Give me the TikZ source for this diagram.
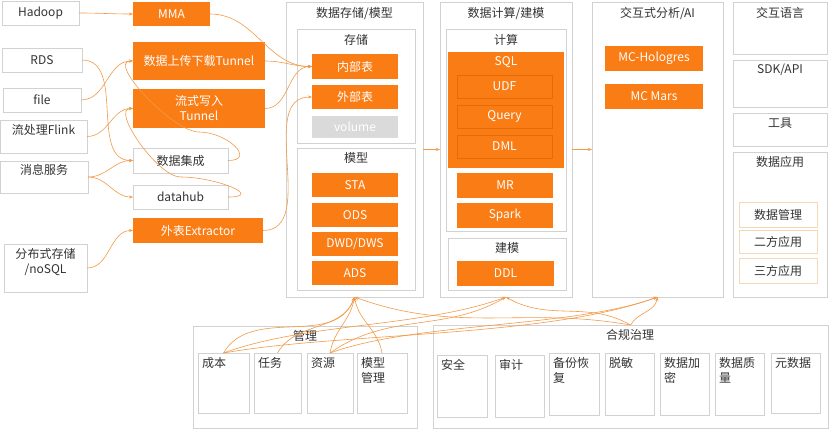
\documentclass[tikz,border=0pt]{standalone}
\usepackage{fontspec}
\setmainfont{Noto Sans CJK SC}
\usetikzlibrary{arrows.meta}

\definecolor{mcorange}{HTML}{FA7C14}
\definecolor{mcline}{HTML}{F29A48}
\definecolor{mcgray}{HTML}{D2D2D2}
\definecolor{mctext}{HTML}{333333}
\definecolor{mcvol}{HTML}{DADADA}
\definecolor{mcpeach}{HTML}{F5D8B8}
\definecolor{mcdeep}{HTML}{E56B05}

\begin{document}
\begin{tikzpicture}[x=1pt,y=-1pt,
  font=\fontsize{12}{15}\selectfont, text=mctext,
  boxsize/.style 2 args={minimum width=#1pt,minimum height=#2pt},
  plain/.style={draw=mcgray,fill=white,inner sep=1pt,outer sep=0pt,align=center},
  hot/.style={fill=mcorange,text=white,inner sep=1pt,outer sep=0pt,align=center},
  ttl/.style={inner sep=0pt,align=center},
  corner/.style={anchor=north west,inner sep=0pt,align=left},
  flow/.style={draw=mcline,line width=0.6pt,-{Stealth[length=4pt,width=3pt]}}]
\useasboundingbox (0,0) rectangle (829,429);

% sources
\node[plain,boxsize={77}{24}] (hadoop) at (40.5,13) {Hadoop};
\node[plain,boxsize={80}{24}] (rds) at (42,60) {RDS};
\node[plain,boxsize={78}{24}] (file) at (42,100) {file};
\node[plain,boxsize={87}{33}] (flink) at (43.5,136.5) {};
\node[ttl] (flinkt) at (43.5,130) {流处理Flink};
\node[plain,boxsize={88}{32}] (msg) at (44,177) {};
\node[ttl] (msgt) at (44,170) {消息服务};
\node[plain,boxsize={83}{48}] (nosql) at (45.5,268) {};
\node[ttl] (nosqlt) at (45.5,262) {分布式存储\\/noSQL};

% ingestion
\node[hot,boxsize={77}{24}] (mma) at (171.5,14) {MMA};
\node[hot,boxsize={132}{38}] (tunnel) at (199,61) {数据上传下载Tunnel};
\node[hot,boxsize={132}{39}] (stream) at (199,108.5) {流式写入\\Tunnel};
\node[plain,boxsize={95}{25}] (jicheng) at (180.5,160.5) {数据集成};
\node[plain,boxsize={95}{24}] (datahub) at (180.5,197) {datahub};
\node[hot,boxsize={130}{25}] (extractor) at (198,230.5) {外表Extractor};

% storage / model
\node[plain,boxsize={137}{295}] (store) at (354.5,149.5) {};
\node[ttl] (storet) at (354.5,14) {数据存储/模型};
\node[plain,boxsize={118}{114}] (storage) at (356,86) {};
\node[ttl] (storaget) at (356,40) {存储};
\node[hot,boxsize={86}{25}] (inner) at (355,66.5) {内部表};
\node[hot,boxsize={86}{24}] (outer) at (355,97) {外部表};
\node[hot,fill=mcvol,boxsize={86}{22}] (volume) at (355,127) {volume};
\node[plain,boxsize={118}{142}] (model) at (356,219) {};
\node[ttl] (modelt) at (356,158) {模型};
\node[hot,boxsize={86}{24}] (sta) at (355,185) {STA};
\node[hot,boxsize={86}{24}] (ods) at (355,215) {ODS};
\node[hot,boxsize={86}{24}] (dwd) at (355,244) {DWD/DWS};
\node[hot,boxsize={86}{24}] (ads) at (355,273) {ADS};

% compute / build
\node[plain,boxsize={132}{295}] (calc) at (506,149.5) {};
\node[ttl] (calct) at (506,14) {数据计算/建模};
\node[plain,boxsize={120}{202}] (compute) at (506,130) {};
\node[ttl] (computet) at (506,40) {计算};
\node[hot,boxsize={116}{116}] (sql) at (506,110) {};
\node[ttl,text=white] (sqlt) at (506,62) {SQL};
\node[hot,draw=mcdeep,boxsize={95}{23}] (udf) at (504.5,86.5) {UDF};
\node[hot,draw=mcdeep,boxsize={95}{23}] (query) at (504.5,116.5) {Query};
\node[hot,draw=mcdeep,boxsize={95}{23}] (dml) at (504.5,146.5) {DML};
\node[hot,boxsize={96}{25}] (mr) at (505,185.5) {MR};
\node[hot,boxsize={96}{25}] (spark) at (505,215.5) {Spark};
\node[plain,boxsize={118}{52}] (build) at (507,264) {};
\node[ttl] (buildt) at (507,248) {建模};
\node[hot,boxsize={97}{25}] (ddl) at (505.5,273.5) {DDL};

% interactive / AI
\node[plain,boxsize={131}{295}] (ai) at (657.5,149.5) {};
\node[ttl] (ait) at (657.5,13) {交互式分析/AI};
\node[hot,boxsize={98}{25}] (holo) at (654,58.5) {MC-Hologres};
\node[hot,boxsize={98}{25}] (mars) at (654,96.5) {MC Mars};

% access
\node[plain,boxsize={94}{52}] (lang) at (780,28) {};
\node[ttl] (langt) at (780,13) {交互语言};
\node[plain,boxsize={94}{47}] (sdk) at (780,83.5) {};
\node[ttl] (sdkt) at (780,70) {SDK/API};
\node[plain,boxsize={94}{33}] (tool) at (780,129.5) {};
\node[ttl] (toolt) at (780,123) {工具};
\node[plain,boxsize={94}{145}] (app) at (780,224.5) {};
\node[ttl] (appt) at (780,162) {数据应用};
\node[plain,draw=mcpeach,boxsize={78}{25}] (dm) at (778,214.5) {数据管理};
\node[plain,draw=mcpeach,boxsize={78}{23}] (second) at (778,241.5) {二方应用};
\node[plain,draw=mcpeach,boxsize={78}{25}] (third) at (778,270.5) {三方应用};

% management
\node[plain,boxsize={224}{102}] (mgmt) at (305,377) {};
\node[ttl] (mgmtt) at (305,336) {管理};
\node[plain,boxsize={51}{60}] (cost) at (223.5,383) {};
\node[corner] (costt) at (202,357) {成本};
\node[plain,boxsize={47}{60}] (task) at (277.5,383) {};
\node[corner] (taskt) at (258,357) {任务};
\node[plain,boxsize={46}{60}] (res) at (330,383) {};
\node[corner] (rest) at (311,357) {资源};
\node[plain,boxsize={50}{60}] (mmgmt) at (382,383) {};
\node[corner] (mmgmtt) at (361,357) {模型\\管理};

% governance
\node[plain,boxsize={395}{103}] (gov) at (630.5,376.5) {};
\node[ttl] (govt) at (630,335) {合规治理};
\node[plain,boxsize={50}{62}] (safe) at (462,386) {};
\node[corner] (safet) at (441,359) {安全};
\node[plain,boxsize={49}{62}] (audit) at (519.5,386) {};
\node[corner] (auditt) at (499,359) {审计};
\node[plain,boxsize={50}{62}] (backup) at (574,384) {};
\node[corner] (backupt) at (553,357) {备份恢\\复};
\node[plain,boxsize={49}{62}] (desens) at (629.5,384) {};
\node[corner] (desenst) at (609,357) {脱敏};
\node[plain,boxsize={49}{62}] (encrypt) at (684.5,384) {};
\node[corner] (encryptt) at (664,357) {数据加\\密};
\node[plain,boxsize={49}{62}] (quality) at (739.5,384) {};
\node[corner] (qualityt) at (719,357) {数据质\\量};
\node[plain,boxsize={49}{60}] (meta) at (795.5,383) {};
\node[corner] (metat) at (775,357) {元数据};

% sources into channels
\draw[flow] (hadoop.east) to[out=0,in=180] (mma.west);
\draw[flow] (rds.east) to[out=0,in=180] (jicheng.west);
\draw[flow] (file.east) to[out=0,in=180] (tunnel.west);
\draw[flow] (flink.east) to[out=0,in=180] (stream.west);
\draw[flow] (msg.east) to[out=0,in=180] (jicheng.west);
\draw[flow] (msg.east) to[out=0,in=180] (datahub.west);
\draw[flow] (nosql.east) to[out=0,in=180] (extractor.west);
\draw[flow] (jicheng.east) to[out=0,in=0,looseness=1.8] ([yshift=-4pt]stream.south) to[out=180,in=180,looseness=0.7] (tunnel.west);
\draw[flow] (datahub.east) to[out=0,in=0,looseness=1.8] ([yshift=-4pt]jicheng.south) to[out=180,in=180,looseness=0.7] (stream.west);

% channels into tables
\draw[flow] (mma.east) to[out=0,in=180] (inner.west);
\draw[flow] (tunnel.east) to[out=0,in=180] (inner.west);
\draw[flow] (stream.east) to[out=0,in=180] (inner.west);
\draw[flow] (extractor.east) to[out=0,in=180] (outer.west);

\draw[flow] (store) -- (calc);
\draw[flow] (calc) -- (ai);

% management and governance up to the layers
\draw[flow] (cost.north) to[out=60,in=-110] (store.south);
\draw[flow] (cost.north) to[out=20,in=-160,looseness=0.8] (calc.south);
\draw[flow] (cost.north) to[out=10,in=-160,looseness=0.7] (ai.south);
\draw[flow] (task.north) to[out=60,in=-110] (store.south);
\draw[flow] (res.north) to[out=80,in=-100] (store.south);
\draw[flow] (res.north) to[out=35,in=-150] (calc.south);
\draw[flow] (res.north) to[out=20,in=-160,looseness=0.7] (ai.south);
\draw[flow] (mmgmt.north) to[out=100,in=-80] (store.south);
\draw[flow] (gov.north) to[out=170,in=-20] (store.south);
\draw[flow] (gov.north) to[out=150,in=-30] (calc.south);
\draw[flow] (gov.north) to[out=60,in=-100] (ai.south);

\end{tikzpicture}
\end{document}
